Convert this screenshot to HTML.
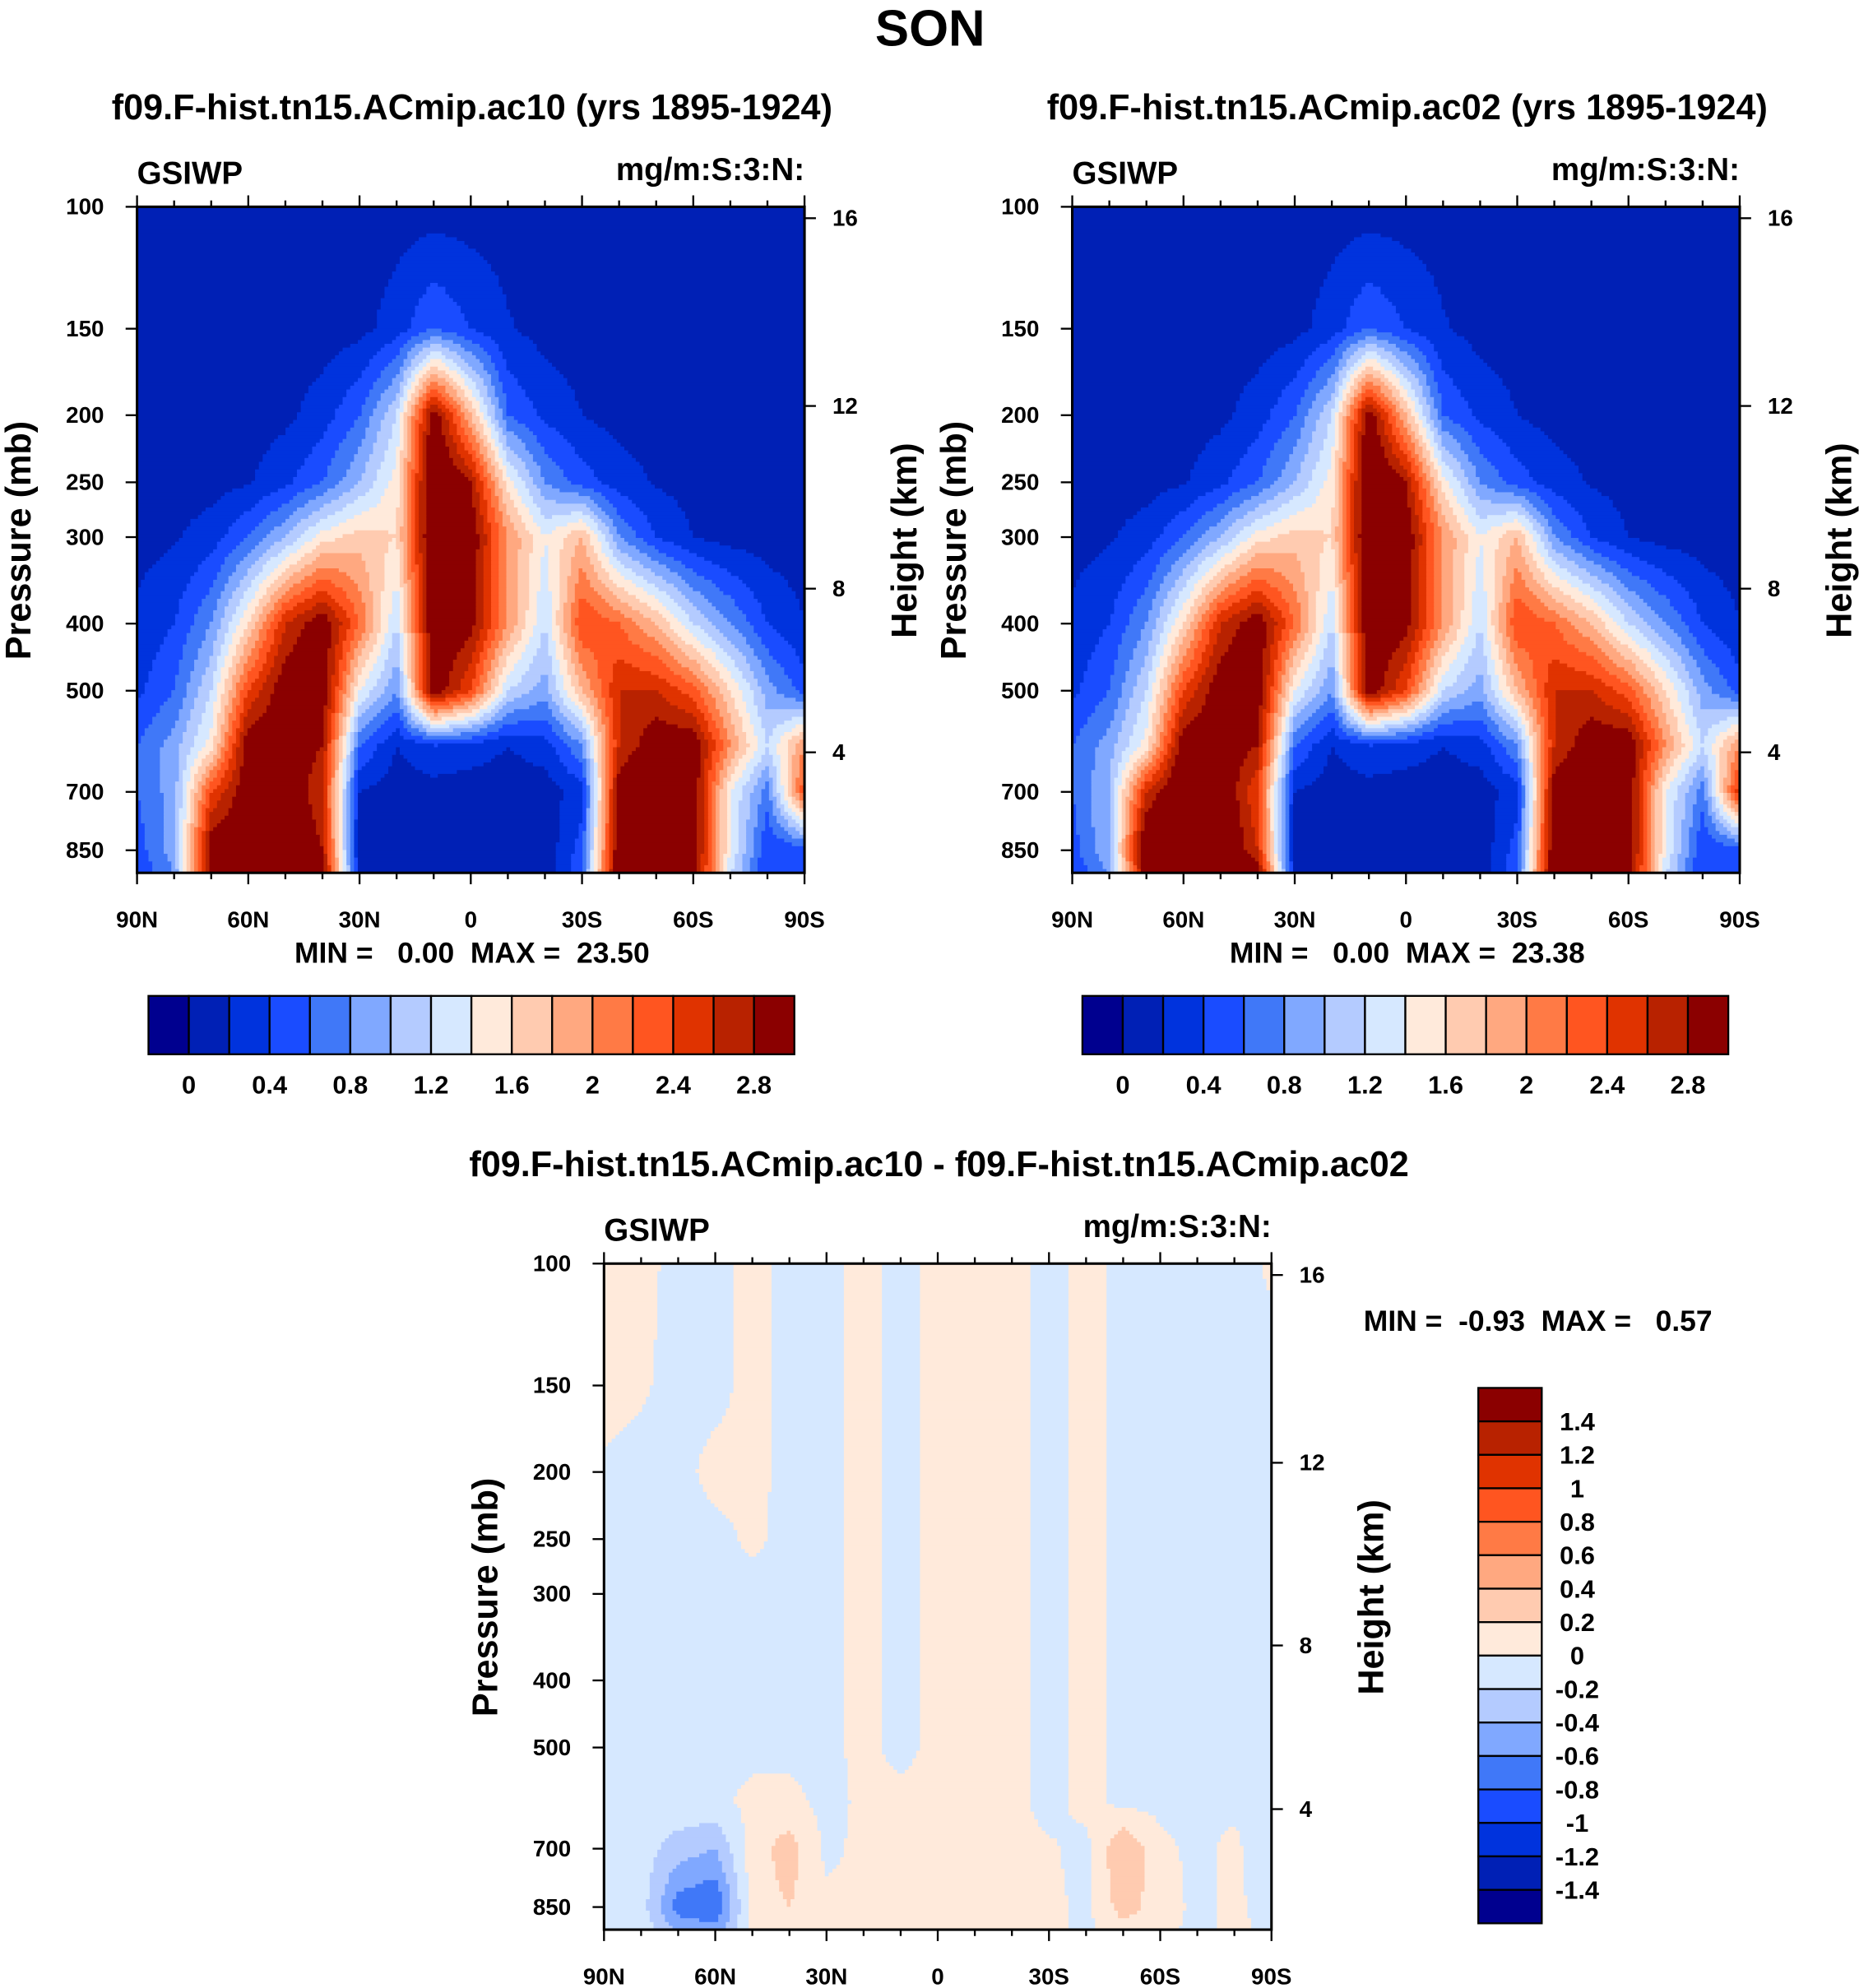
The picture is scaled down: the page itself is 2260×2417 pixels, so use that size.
<!DOCTYPE html>
<html><head><meta charset="utf-8"><style>
html,body{margin:0;padding:0;background:#fff}
svg{display:block}
text{font-family:"Liberation Sans",Arial,sans-serif;font-weight:bold;fill:#000;white-space:pre}
</style></head><body>
<svg id="fig" width="2260" height="2417" viewBox="0 0 1465 1567" preserveAspectRatio="none" xmlns="http://www.w3.org/2000/svg">
<text x="733" y="36" font-size="40" text-anchor="middle">SON</text>
<text x="372" y="94" font-size="28" text-anchor="middle">f09.F-hist.tn15.ACmip.ac10 (yrs 1895-1924)</text>
<text x="1109" y="94" font-size="28" text-anchor="middle">f09.F-hist.tn15.ACmip.ac02 (yrs 1895-1924)</text>
<text x="740" y="927" font-size="28" text-anchor="middle">f09.F-hist.tn15.ACmip.ac10 - f09.F-hist.tn15.ACmip.ac02</text>
<g id="layer"></g>
</svg>
<script>
const lats = [90,80,70,60,50,40,30,20,10,0,-10,-20,-30,-40,-50,-60,-70,-80,-90];
const levels = [100,150,200,250,300,400,500,600,700,850,925];
const ac10 = [
[0.1,0.1,0.1,0.1,0.1,0.1,0.1,0.1,0.1,0.1,0.1,0.1,0.1,0.1,0.1,0.1,0.1,0.1,0.1],
[0.1,0.1,0.1,0.1,0.1,0.1,0.13,0.3,0.6,0.4,0.22,0.12,0.1,0.1,0.1,0.1,0.1,0.1,0.1],
[0.1,0.1,0.1,0.1,0.15,0.3,0.6,1.2,3.0,1.8,0.6,0.35,0.2,0.12,0.1,0.1,0.1,0.1,0.1],
[0.1,0.1,0.12,0.18,0.35,0.6,1.0,1.5,3.2,2.8,1.5,0.8,0.5,0.3,0.18,0.12,0.1,0.1,0.1],
[0.12,0.18,0.3,0.6,1.0,1.5,1.7,1.6,3.2,3.0,2.0,1.4,1.8,0.8,0.4,0.2,0.12,0.1,0.1],
[0.25,0.4,0.8,1.6,2.6,3.0,2.2,1.2,3.1,2.9,2.0,1.2,2.4,2.2,1.8,1.2,0.8,0.4,0.2],
[0.35,0.6,1.2,2.4,3.0,3.0,1.4,0.8,3.0,2.4,1.2,0.9,1.8,2.6,2.6,2.3,1.6,0.9,0.5],
[0.6,0.9,1.5,3.0,3.0,2.8,0.6,0.2,0.4,0.3,0.2,0.3,0.8,2.6,3.0,3.0,2.0,1.2,2.0],
[0.6,0.9,2.4,3.0,3.1,2.6,0.2,0.1,0.1,0.1,0.1,0.1,0.3,3.0,3.2,3.0,1.4,0.7,2.4],
[0.5,0.9,3.0,3.1,3.2,2.8,0.1,0.05,0.05,0.05,0.05,0.05,0.5,3.1,3.3,3.0,1.4,0.4,0.5],
[0.4,0.8,3.0,3.2,3.2,3.0,0.2,0.05,0.05,0.05,0.05,0.05,0.6,3.2,3.3,3.0,1.2,0.4,0.4]];
const ac02 = [
[0.1,0.1,0.1,0.1,0.1,0.1,0.1,0.1,0.1,0.1,0.1,0.1,0.1,0.1,0.1,0.1,0.1,0.1,0.1],
[0.1,0.1,0.1,0.1,0.1,0.1,0.13,0.3,0.6,0.4,0.22,0.12,0.1,0.1,0.1,0.1,0.1,0.1,0.1],
[0.1,0.1,0.1,0.1,0.15,0.3,0.6,1.2,3.0,1.8,0.6,0.35,0.2,0.12,0.1,0.1,0.1,0.1,0.1],
[0.1,0.1,0.12,0.18,0.35,0.6,1.0,1.5,3.2,2.8,1.5,0.8,0.5,0.3,0.18,0.12,0.1,0.1,0.1],
[0.12,0.18,0.3,0.6,1.0,1.5,1.7,1.6,3.2,3.0,2.0,1.4,1.8,0.8,0.4,0.2,0.12,0.1,0.1],
[0.25,0.4,0.8,1.6,2.6,3.0,2.2,1.2,3.1,2.9,2.0,1.2,2.4,2.2,1.8,1.2,0.8,0.4,0.2],
[0.35,0.6,1.2,2.4,3.0,3.0,1.4,0.8,3.0,2.4,1.2,0.9,1.8,2.6,2.6,2.3,1.6,0.9,0.5],
[0.6,0.9,1.5,3.0,3.0,2.8,0.6,0.2,0.4,0.3,0.2,0.3,0.8,2.6,3.0,3.0,2.0,1.2,2.0],
[0.6,1.0,2.6,3.2,3.1,2.4,0.2,0.1,0.1,0.1,0.1,0.1,0.3,3.0,3.1,3.0,1.4,0.7,2.6],
[0.5,1.0,3.2,3.3,3.2,2.6,0.1,0.05,0.05,0.05,0.05,0.05,0.5,3.1,3.2,3.0,1.4,0.4,0.5],
[0.4,0.8,3.0,3.2,3.2,3.0,0.2,0.05,0.05,0.05,0.05,0.05,0.6,3.2,3.3,3.0,1.2,0.4,0.4]];
const diff = [
[.05,.05,-.05,-.05,.05,-.05,-.05,.05,-.05,.05,.05,.05,-.05,.05,-.05,-.05,-.05,-.05,.02],
[.05,.02,-.05,-.05,.05,-.05,-.05,.05,-.05,.05,.05,.05,-.05,.05,-.05,-.05,-.05,-.05,-.05],
[-.02,-.05,-.05,.05,.05,-.05,-.05,.05,-.05,.05,.05,.05,-.05,.05,-.05,-.05,-.05,-.05,-.05],
[-.05,-.05,-.05,-.05,.03,-.05,-.05,.05,-.05,.05,.05,.05,-.05,.05,-.05,-.05,-.05,-.05,-.05],
[-.05,-.05,-.05,-.05,-.05,-.05,-.05,.05,-.05,.05,.05,.05,-.05,.05,-.05,-.05,-.05,-.05,-.05],
[-.05,-.05,-.05,-.05,-.05,-.05,-.05,.05,-.05,.05,.05,.05,-.05,.05,-.05,-.05,-.05,-.05,-.05],
[-.05,-.05,-.05,-.05,-.05,-.05,-.05,.05,-.05,.05,.05,.05,-.05,.05,-.05,-.05,-.05,-.05,-.05],
[-.05,-.05,-.05,-.05,.05,.05,-.05,.03,.05,.05,.05,.05,-.05,.05,-.05,-.05,-.05,-.05,-.05],
[-.05,-.1,-.3,-.4,.1,.3,-.05,.05,.05,.05,.05,.03,.02,-.05,.4,.05,-.05,.05,-.2],
[-.05,-.1,-.7,-.8,.1,.2,.05,.05,.05,.05,.05,.05,.05,-.05,.3,.1,-.05,.05,-.1],
[-.05,-.05,-.4,-.5,.05,.1,.05,.05,.05,.05,.05,.05,.05,-.05,.1,.05,-.05,.05,-.05]];
const colors = ['#00008f','#0020b5','#0033dd','#1a4cff','#4078f8','#80a8ff','#b4cbff','#d6e8ff','#ffeadb','#ffcbb0','#ffa880','#ff7a45','#ff5520','#e03300','#b82200','#8b0000'];
const absTicks = ['0','0.4','0.8','1.2','1.6','2','2.4','2.8'];
const diffTicks = ['1.4','1.2','1','0.8','0.6','0.4','0.2','0','-0.2','-0.4','-0.6','-0.8','-1','-1.2','-1.4'];
const latTicks = ['90N','60N','30N','0','30S','60S','90S'];
const presTicks = [100,150,200,250,300,400,500,700,850];
const hgtTicks = [16,12,8,4];
const hgtY = [172-163,320-163,464-163,593-163];

const NS='http://www.w3.org/2000/svg';
const layer=document.getElementById('layer');
function el(tag,attrs,parent){const e=document.createElementNS(NS,tag);for(const k in attrs)e.setAttribute(k,attrs[k]);(parent||layer).appendChild(e);return e;}
function txt(s,x,y,size,anchor,parent){const t=el('text',{x:x,y:y,'font-size':size,'text-anchor':anchor||'middle'},parent);t.textContent=s;return t;}

function sample(field,lat,p){
  const fx=(90-lat)/10; let i=Math.max(0,Math.min(Math.floor(fx),17)); const tx=Math.min(1,Math.max(0,fx-i));
  const lp=Math.log(Math.min(Math.max(p,100),925));
  let j=0; while(j<levels.length-2 && Math.log(levels[j+1])<lp) j++;
  const ty=Math.min(1,Math.max(0,(lp-Math.log(levels[j]))/(Math.log(levels[j+1])-Math.log(levels[j]))));
  const a=field[j][i],b=field[j][i+1],c=field[j+1][i],d=field[j+1][i+1];
  return (a*(1-tx)+b*tx)*(1-ty)+(c*(1-tx)+d*tx)*ty;
}
function panel(name,field,x0,y0,idxFn){
  const W=526,H=525,g=el('g',{});
  
  
  const xs=lat=>x0+(90-lat)/180*W, ys=p=>y0+237*Math.log(p/100);
  const st=3;
  for(let yy=0;yy<H;yy+=st){
    const h=Math.min(st,H-yy);
    const p=100*Math.exp((yy+h/2)/237);
    let run=null,rs=0;
    const flush=(end)=>{ if(run!==null) el('rect',{x:x0+rs,y:y0+yy,width:end-rs+0.4,height:h+0.4,fill:run},g); };
    for(let xx=0;xx<W;xx+=st){
      const lat=90-(xx+st/2)/W*180; const c=colors[idxFn(sample(field,lat,p))];
      if(c!==run){ flush(xx); run=c; rs=xx; }
    }
    flush(W);
  }
  el('rect',{x:x0,y:y0,width:W,height:H,fill:'none',stroke:'#000','stroke-width':2},g);
  for(let k=0;k<=18;k++){const x=xs(90-k*10),L=k%3===0?9:5;
    el('line',{x1:x,y1:y0,x2:x,y2:y0-L,stroke:'#000','stroke-width':1.5},g);
    el('line',{x1:x,y1:y0+H,x2:x,y2:y0+H+L,stroke:'#000','stroke-width':1.5},g);}
  latTicks.forEach((s,k)=>txt(s,x0+k*W/6,y0+H+43,18,'middle',g));
  presTicks.forEach(p=>{const y=ys(p);el('line',{x1:x0,y1:y,x2:x0-9,y2:y,stroke:'#000','stroke-width':1.5},g);txt(String(p),x0-26,y+6,18,'end',g);});
  hgtTicks.forEach((h,k)=>{const y=y0+hgtY[k];el('line',{x1:x0+W,y1:y,x2:x0+W+9,y2:y,stroke:'#000','stroke-width':1.5},g);txt(String(h),x0+W+22,y+6,18,'start',g);});
  txt('GSIWP',x0,y0-18,25,'start',g);
  txt('mg/m:S:3:N:',x0+W,y0-21,25,'end',g);
  const t1=txt('Pressure (mb)',0,0,28,'middle',g);t1.setAttribute('transform',`translate(${x0-84},${y0+263}) rotate(-90)`);
  const t2=txt('Height (km)',0,0,28,'middle',g);t2.setAttribute('transform',`translate(${x0+W+88},${y0+263}) rotate(-90)`);
}
const absIdx=v=>v<0?0:Math.min(15,Math.floor(v/0.2)+1);
const diffIdx=v=>v<-1.4?0:Math.min(15,Math.floor((v+1.4)/0.2+1e-9)+1);
panel('panel1-plot',ac10,108,163,absIdx);
panel('panel2-plot',ac02,845,163,absIdx);
panel('diff-plot',diff,476,996,diffIdx);

function hbar(name,x0){
  const g=el('g',{});
  
  
  const w=509/16;
  colors.forEach((c,k)=>el('rect',{x:x0+k*w,y:785,width:w,height:46,fill:c,stroke:'#000','stroke-width':1.5},g));
  absTicks.forEach((s,k)=>txt(s,x0+w*(1+2*k),862,20,'middle',g));
}
hbar('panel1-colorbar',117);
hbar('panel2-colorbar',853);
(function(){
  const g=el('g',{});
  
  
  const h=422/16;
  colors.slice().reverse().forEach((c,k)=>el('rect',{x:1165,y:1094+k*h,width:50,height:h,fill:c,stroke:'#000','stroke-width':1.5},g));
  diffTicks.forEach((s,k)=>txt(s,1243,1094+(k+1)*h+7,20,'middle',g));
})();
txt('MIN =   0.00  MAX =  23.50',372,759,23);
txt('MIN =   0.00  MAX =  23.38',1109,759,23);
txt('MIN =  -0.93  MAX =   0.57',1212,1049,23);
</script>
</body></html>
